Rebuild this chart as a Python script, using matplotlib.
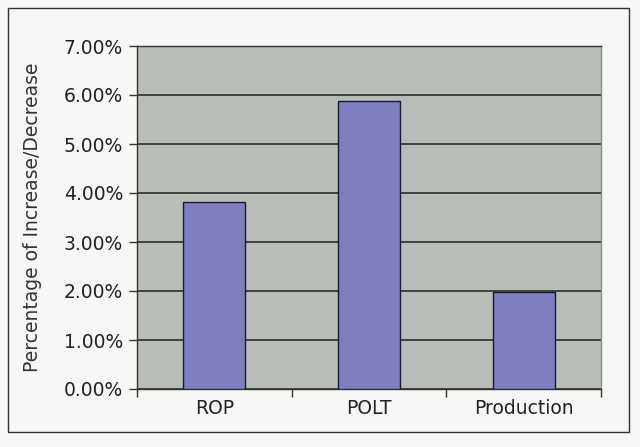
import numpy as np
import matplotlib.pyplot as plt
from matplotlib.patches import Rectangle
from matplotlib.ticker import FuncFormatter, MultipleLocator

categories = ["ROP", "POLT", "Production"]
values = [3.82, 5.88, 1.98]  # percent

fig = plt.figure(figsize=(6.4, 4.47), dpi=100)
fig.patch.set_facecolor("#f7f7f5")
fig.patches.append(Rectangle((0.013, 0.033), 0.97, 0.95, transform=fig.transFigure,
                             fill=False, edgecolor="#333333", linewidth=1.0))

ax = fig.add_axes([137 / 640, 1 - 389 / 447, 464 / 640, 343 / 447])
ax.set_facecolor("#b9bdb8")

x = np.arange(len(categories))
ax.bar(x, values, width=0.4, color="#7f7fc0", edgecolor="#1a1a2a", linewidth=1.0, zorder=3)

ax.set_xlim(-0.5, len(categories) - 0.5)
ax.set_ylim(0, 7)
ax.yaxis.set_major_locator(MultipleLocator(1))
ax.yaxis.set_major_formatter(FuncFormatter(lambda v, p: f"{v:.2f}%"))
ax.grid(axis="y", color="#2a2f2a", linewidth=1.2, zorder=1)

ax.set_xticks(x)
ax.set_xticklabels(categories)
ax.set_xticks(np.arange(-0.5, len(categories)), minor=True)
ax.tick_params(axis="x", which="major", length=0, pad=7, labelsize=13.5, labelcolor="#222222")
ax.tick_params(axis="x", which="minor", length=6, width=1, direction="out", color="#333333")
ax.tick_params(axis="y", length=6, width=1, direction="out", labelsize=13.5, labelcolor="#222222",
               color="#333333", pad=4)

for s in ax.spines.values():
    s.set_color("#333333")
    s.set_linewidth(1.0)
ax.spines["right"].set_color("#8a8e8a")

ax.set_ylabel("Percentage of Increase/Decrease", fontsize=13.5, color="#333333", labelpad=16)

fig.savefig("out.png", dpi=100, facecolor=fig.get_facecolor())
